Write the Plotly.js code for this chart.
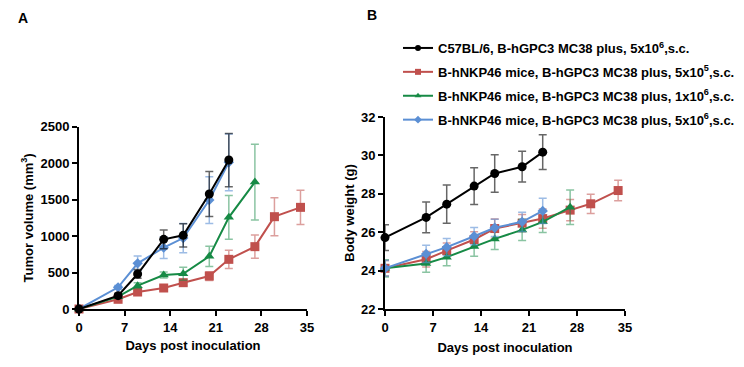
<!DOCTYPE html>
<html><head><meta charset="utf-8">
<script src="https://cdn.plot.ly/plotly-3.0.1.min.js"></script>
<style>html,body{margin:0;padding:0;background:#fff}#c{width:744px;height:367px}</style>
</head><body><div id="c"></div>
<script>
const names = ['C57BL/6, B-hGPC3 MC38 plus, 5x10<sup>6</sup>,s.c.',
  'B-hNKP46 mice, B-hGPC3 MC38 plus, 5x10<sup>5</sup>,s.c.',
  'B-hNKP46 mice, B-hGPC3 MC38 plus, 1x10<sup>6</sup>,s.c.',
  'B-hNKP46 mice, B-hGPC3 MC38 plus, 5x10<sup>6</sup>,s.c.'];
const daysBlack = [0,6,9,13,16,20,23];
const daysRed = [0,6,9,13,16,20,23,27,30,34];
const daysGreen = [0,6,9,13,16,20,23,27];
const daysBlue = [0,6,9,13,16,20,23];

// Panel A: tumor volume (mm3)
const tumorBlack = [0,183,480,955,1010,1577,2043];
const tumorBlackErr = [0,30,60,130,160,310,365];
const tumorRed = [0,133,233,288,361,452,681,855,1266,1394];
const tumorRedErr = [0,20,30,30,40,60,125,160,260,235];
const tumorGreen = [0,169,320,466,484,722,1257,1741];
const tumorGreenErr = [0,20,40,40,90,140,300,520];
const tumorBlue = [0,297,626,841,973,1494,2011];
const tumorBlueErr = [0,25,100,150,200,320,390];

// Panel B: body weight (g)
const wBlack = [25.72,26.77,27.46,28.40,29.06,29.41,30.17];
const wBlackErr = [0.67,0.8,1.0,0.96,0.98,0.8,0.9];
const wRed = [24.12,24.59,25.04,25.62,26.19,26.47,26.71,27.15,27.48,28.17];
const wRedErr = [0.4,0.4,0.4,0.4,0.5,0.45,0.5,0.55,0.5,0.53];
const wGreen = [24.12,24.37,24.70,25.25,25.65,26.12,26.54,27.30];
const wGreenErr = [0.45,0.45,0.45,0.5,0.55,0.55,0.55,0.9];
const wBlue = [24.12,24.87,25.22,25.79,26.23,26.54,27.11];
const wBlueErr = [0.4,0.45,0.45,0.45,0.45,0.5,0.66];

const xTicks = [0,7,14,21,28,35];
const yTicksA = [0,500,1000,1500,2000,2500];
const yTicksB = [22,24,26,28,30,32];

const styles = [
  {color:'#000000', err:'rgba(0,0,0,0.6)', symbol:'circle', size:9},
  {color:'#c0504d', err:'rgba(192,80,77,0.55)', symbol:'square', size:9},
  {color:'#168a45', err:'rgba(22,138,69,0.5)', symbol:'triangle-up', size:9},
  {color:'#5b8fd4', err:'rgba(91,143,212,0.6)', symbol:'diamond', size:8}
];

function tr(i, x, y, e, xa, ya) {
  const s = styles[i];
  return {x:x, y:y, xaxis:xa, yaxis:ya, type:'scatter', mode:'lines+markers',
    name:names[i], showlegend:false, cliponaxis:false,
    line:{color:s.color, width:2},
    marker:{color:s.color, symbol:s.symbol, size:s.size},
    error_y:{type:'data', array:e, visible:true, color:s.err, thickness:1.5, width:4}};
}
function legendItem(i) {
  const s = styles[i];
  return {x:[null], y:[null], xaxis:'x2', yaxis:'y2', type:'scatter', mode:'lines+markers',
    name:names[i], legendgroup:'g'+i, showlegend:true,
    line:{color:s.color, width:2}, marker:{color:s.color, symbol:s.symbol, size:6}};
}

const data = [
  tr(1, daysRed, tumorRed, tumorRedErr, 'x', 'y'),
  tr(2, daysGreen, tumorGreen, tumorGreenErr, 'x', 'y'),
  tr(3, daysBlue, tumorBlue, tumorBlueErr, 'x', 'y'),
  tr(0, daysBlack, tumorBlack, tumorBlackErr, 'x', 'y'),
  tr(1, daysRed, wRed, wRedErr, 'x2', 'y2'),
  tr(2, daysGreen, wGreen, wGreenErr, 'x2', 'y2'),
  tr(3, daysBlue, wBlue, wBlueErr, 'x2', 'y2'),
  tr(0, daysBlack, wBlack, wBlackErr, 'x2', 'y2'),
  legendItem(0), legendItem(1), legendItem(2), legendItem(3)
];

const F = 'Liberation Sans, Arial, sans-serif';
const axBase = {showline:true, linecolor:'#000', linewidth:2, ticks:'outside', ticklen:5, tickwidth:2,
  tickcolor:'#000', showgrid:false, zeroline:false, tickfont:{family:F, size:13, color:'#000', weight:'bold'}};
const tf = {family:F, size:13, color:'#000', weight:'bold'};

const layout = {
  width:744, height:367, margin:{l:0,r:0,t:0,b:0}, paper_bgcolor:'#fff', plot_bgcolor:'#fff',
  font:{family:F, color:'#000'},
  xaxis: Object.assign({}, axBase, {domain:[79/744, 307/744], range:[0,35], tickvals:xTicks, anchor:'y',
    title:{text:'Days post inoculation', font:tf, standoff:7}}),
  yaxis: Object.assign({}, axBase, {domain:[1-309/367, 1-126.7/367], range:[0,2500], tickvals:yTicksA, anchor:'x',
    title:{text:'Tumor volume (mm<sup>3</sup>)', font:tf, standoff:4}}),
  xaxis2: Object.assign({}, axBase, {domain:[385/744, 625/744], range:[0,35], tickvals:xTicks, anchor:'y2',
    title:{text:'Days post inoculation', font:tf, standoff:9}}),
  yaxis2: Object.assign({}, axBase, {domain:[1-309/367, 1-117/367], range:[22,32], tickvals:yTicksB, anchor:'x2',
    title:{text:'Body weight (g)', font:tf, standoff:3}}),
  legend:{x:398/744, y:1-33/367, xanchor:'left', yanchor:'top', bgcolor:'rgba(0,0,0,0)',
    font:{family:F, size:13, color:'#000', weight:'bold'}, itemwidth:30,
    traceorder:'grouped', tracegroupgap:4},
  annotations:[
    {text:'A', x:23/744, y:1-18/367, xref:'paper', yref:'paper', xanchor:'center', yanchor:'middle', showarrow:false, font:{family:F, size:14, weight:'bold'}},
    {text:'B', x:372/744, y:1-15/367, xref:'paper', yref:'paper', xanchor:'center', yanchor:'middle', showarrow:false, font:{family:F, size:14, weight:'bold'}}
  ]
};
Plotly.newPlot('c', data, layout, {displayModeBar:false, staticPlot:true});
</script></body></html>
